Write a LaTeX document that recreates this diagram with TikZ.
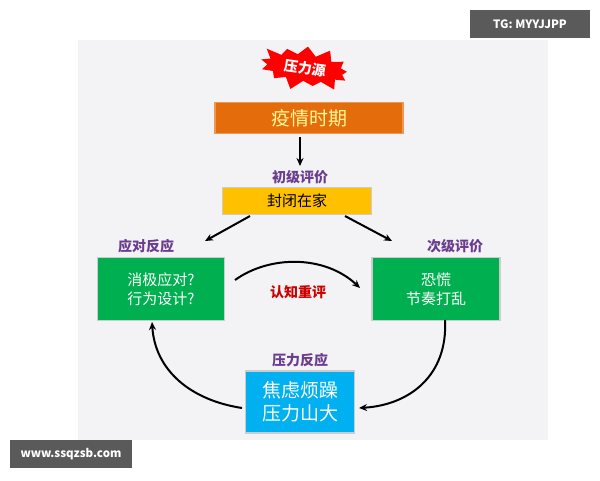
\documentclass[tikz,border=0pt]{standalone}
\usepackage{fontspec}
\setmainfont{Noto Sans CJK SC}
\usetikzlibrary{shapes.misc,shapes.symbols,arrows.meta}
\definecolor{panel}{HTML}{F3F3F5}
\definecolor{org}{HTML}{E46C0A}
\definecolor{yel}{HTML}{FFC000}
\definecolor{grn}{HTML}{00B050}
\definecolor{blu}{HTML}{00B0F0}
\definecolor{pur}{HTML}{6A3D8F}
\definecolor{badge}{HTML}{5A5A5A}
\tikzset{
 box/.style={draw=gray!40,line width=1.5pt,inner sep=0pt,align=center},
 lab/.style={text=pur,font=\bfseries\fontsize{14}{16}\selectfont},
 arr/.style={-{Stealth[length=8pt,width=7pt]},line width=2pt},
}
\begin{document}
\begin{tikzpicture}[x=1pt,y=-1pt]
\useasboundingbox (0,0) rectangle (600,480);
\fill[white] (0,0) rectangle (600,480);
\fill[panel] (78,40) rectangle (548,440);
\node[fill=badge,text=white,font=\bfseries\fontsize{11.5}{12}\selectfont,minimum width=120pt,minimum height=28pt] (tg) at (530,24) {TG: MYYJJPP};
\node[fill=badge,text=white,font=\bfseries\fontsize{11.5}{12}\selectfont,minimum width=122pt,minimum height=28pt] (www) at (71,454) {www.ssqzsb.com};
\node[starburst,starburst points=13,starburst point height=12pt,fill=red,minimum width=100pt,minimum height=50pt,inner sep=0pt,text=white,font=\bfseries\fontsize{14}{16}\selectfont,rotate=-8] (src) at (305,68) {压力源};
\node[box,fill=org,draw=org!70,text=yellow!40,minimum width=188pt,minimum height=31pt,font=\fontsize{19}{21}\selectfont] (a) at (309,118) {疫情时期};
\coordinate (at) at (300,137);
\coordinate (ab) at (300,166);
\draw[arr] (at) -- (ab);
\node[lab] (l1) at (300,177) {初级评价};
\node[box,fill=yel,minimum width=149pt,minimum height=27pt,font=\fontsize{15}{17}\selectfont] (b) at (297,201) {封闭在家};
\node[lab] (l2) at (146,246) {应对反应};
\node[lab] (l3) at (455,246) {次级评价};
\node[box,fill=grn,text=white,minimum width=127pt,minimum height=63pt,font=\fontsize{15}{19}\selectfont] (c) at (161,289) {消极应对?\\行为设计?};
\node[box,fill=grn,text=white,minimum width=128pt,minimum height=63pt,font=\fontsize{15}{19}\selectfont] (d) at (436,289) {恐慌\\节奏打乱};
\node[text=red!80!black,font=\bfseries\fontsize{14}{16}\selectfont] (l4) at (298,292) {认知重评};
\node[lab] (l5) at (300,360) {压力反应};
\node[box,fill=blu,text=white,minimum width=109pt,minimum height=62pt,font=\fontsize{19}{23}\selectfont] (e) at (300,402) {焦虑烦躁\\压力山大};
\coordinate (b1) at (250,216); \coordinate (b2) at (205,241);
\coordinate (b3) at (345,216); \coordinate (b4) at (392,241);
\draw[arr] (b1) -- (b2);
\draw[arr] (b3) -- (b4);
\coordinate (c1) at (235,280); \coordinate (c2) at (360,288);
\draw[arr] (c1) .. controls (270,255) and (325,255) .. (c2);
\coordinate (d1) at (445,320); \coordinate (e1) at (359,408);
\draw[arr] (d1) .. controls (448,375) and (410,405) .. (e1);
\coordinate (e2) at (242,408); \coordinate (c3) at (152,322);
\draw[arr] (e2) .. controls (190,400) and (155,370) .. (c3);
\end{tikzpicture}
\end{document}
